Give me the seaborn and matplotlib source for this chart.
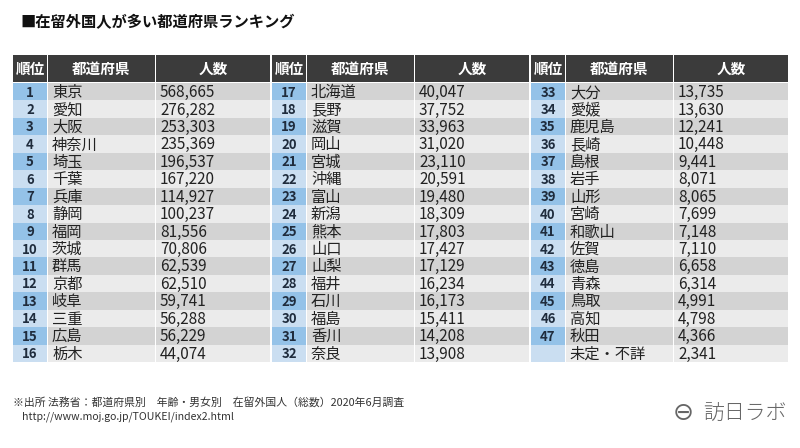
import matplotlib
matplotlib.use("Agg")
import matplotlib.pyplot as plt
import numpy as np
import seaborn as sns
from matplotlib.colors import ListedColormap

# ranking data (3 blocks of 16 rows)
ranks = [str(i) for i in range(1, 48)] + [""]
prefectures = [
    "東京", "愛知", "大阪", "神奈川", "埼玉", "千葉", "兵庫", "静岡",
    "福岡", "茨城", "群馬", "京都", "岐阜", "三重", "広島", "栃木",
    "北海道", "長野", "滋賀", "岡山", "宮城", "沖縄", "富山", "新潟",
    "熊本", "山口", "山梨", "福井", "石川", "福島", "香川", "奈良",
    "大分", "愛媛", "鹿児島", "長崎", "島根", "岩手", "山形", "宮崎",
    "和歌山", "佐賀", "徳島", "青森", "鳥取", "高知", "秋田", "未定・不詳",
]
residents = [
    568665, 276282, 253303, 235369, 196537, 167220, 114927, 100237,
    81556, 70806, 62539, 62510, 59741, 56288, 56229, 44074,
    40047, 37752, 33963, 31020, 23110, 20591, 19480, 18309,
    17803, 17427, 17129, 16234, 16173, 15411, 14208, 13908,
    13735, 13630, 12241, 10448, 9441, 8071, 8065, 7699,
    7148, 7110, 6658, 6314, 4991, 4798, 4366, 2341,
]
headers = ["順位", "都道府県", "人数"]

title = "■在留外国人が多い都道府県ランキング"
source_line = "※出所 法務省：都道府県別　年齢・男女別　在留外国人（総数）2020年6月調査"
source_url = "http://www.moj.go.jp/TOUKEI/index2.html"

sns.set_theme(style="white")
plt.rcParams["font.family"] = ["Noto Sans CJK JP", "DejaVu Sans"]

W, H = 800, 448
fig = plt.figure(figsize=(8, 4.48), dpi=100)
fig.patch.set_facecolor("white")

rows_per_block = 16
block_left = [13, 272, 531]
col_offsets = [0, 35, 143]
col_widths = [34, 107, 114]
head_top, head_bottom = 55, 82
body_top, body_bottom = 83, 362

header_cmap = ListedColormap(["#3b3b3b"])
cell_cmap = ListedColormap(["#94c2e8", "#cadef1", "#d3d3d3", "#ebebeb"])


def px_axes(left, top, width, height):
    return fig.add_axes([left / W, 1 - (top + height) / H, width / W, height / H])


for b, x0 in enumerate(block_left):
    sl = slice(b * rows_per_block, (b + 1) * rows_per_block)
    columns = [ranks[sl], prefectures[sl], [f"{v:,}" for v in residents[sl]]]
    for c in range(3):
        left = x0 + col_offsets[c]

        # header cell
        hax = px_axes(left, head_top, col_widths[c], head_bottom - head_top)
        sns.heatmap([[0]], ax=hax, cmap=header_cmap, vmin=0, vmax=1, cbar=False,
                    xticklabels=False, yticklabels=False)
        hax.text(0.5, 0.52, headers[c], color="white", fontsize=10.5,
                 fontweight="bold", ha="center", va="center")

        # body cells, alternating shades
        bax = px_axes(left, body_top, col_widths[c], body_bottom - body_top)
        base = 0 if c == 0 else 2
        codes = np.array([base + (i % 2) for i in range(rows_per_block)]).reshape(-1, 1)
        sns.heatmap(codes, ax=bax, cmap=cell_cmap, vmin=-0.5, vmax=3.5, cbar=False,
                    xticklabels=False, yticklabels=False)
        for i, label in enumerate(columns[c]):
            if c == 0:
                bax.text(0.5, i + 0.55, label, ha="center", va="center",
                         fontsize=9.5, fontweight="bold", color="#1f2c3d")
            else:
                bax.text(4 / col_widths[c], i + 0.55, label, ha="left", va="center",
                         fontsize=11, color="#222222")

fig.text(20 / W, 1 - 22 / H, title, fontsize=11, fontweight="bold",
         va="center", color="#111111")
fig.text(13 / W, 1 - 402 / H, source_line, fontsize=7.8, va="center", color="#333333")
fig.text(22 / W, 1 - 417 / H, source_url, fontsize=7.6, va="center", color="#333333")

fig.text(683 / W, 1 - 413 / H, "⊖", fontsize=18, ha="center", va="center",
         color="#666666", family=["DejaVu Sans"])
fig.text(787 / W, 1 - 413 / H, "訪日ラボ", fontsize=15, ha="right", va="center",
         color="#666666", fontweight="light")

fig.savefig("out.png", dpi=100, facecolor="white")
